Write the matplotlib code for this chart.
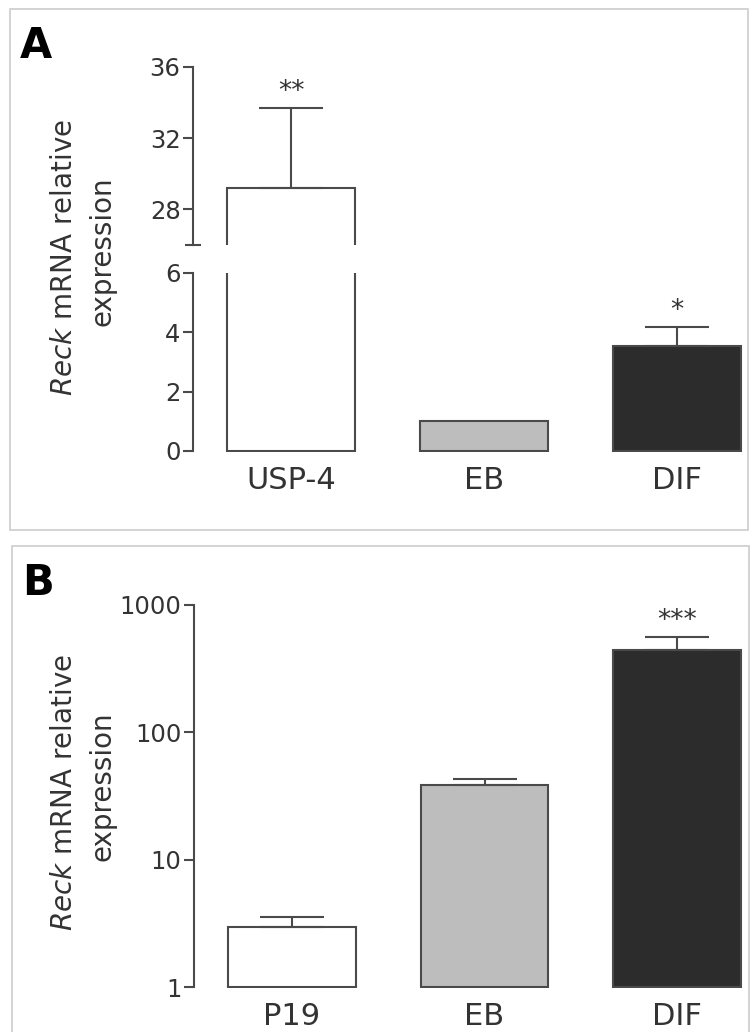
import matplotlib.pyplot as plt
from matplotlib.patches import Rectangle

FontSize = 17.5
LabelSize = 22
StarSize = 19
LineWidth = 1.5
EdgeColor = '#4a4a4a'
TextColor = '#333333'

# panel A data (broken axis)
groups_a = ['USP-4', 'EB', 'DIF']
values_a = [29.2, 1.0, 3.52]
errors_a = [4.5, 0.0, 0.67]
stars_a = ['**', '', '*']

# panel B data (log axis)
groups_b = ['P19', 'EB', 'DIF']
values_b = [3.0, 39.0, 445.0]
errors_b = [0.6, 4.0, 117.0]
stars_b = ['', '', '***']

bar_colors = ['white', '#bcbdbc', '#2c2c2c']

W, H = 750, 1032
fig = plt.figure(figsize=(W / 100, H / 100), dpi=100)


def px_axes(left, top, right, bottom):
    # axes placed with pixel coordinates of the reference picture
    return fig.add_axes([left / W, 1 - bottom / H, (right - left) / W, (bottom - top) / H])


def style_axis(ax):
    for side in ['top', 'right', 'bottom']:
        ax.spines[side].set_visible(False)
    ax.spines['left'].set_color(EdgeColor)
    ax.spines['left'].set_linewidth(LineWidth)
    ax.tick_params(axis='y', which='major', length=7, width=LineWidth, color=EdgeColor,
                   labelsize=FontSize, labelcolor=TextColor, pad=2)
    ax.tick_params(axis='x', length=0, labelsize=LabelSize, labelcolor=TextColor, pad=10)
    ax.set_xlim(-0.508, 2.378)


def add_stars(ax, values, errors, stars, only=None):
    for i, s in enumerate(stars):
        if s and (only is None or i in only):
            ax.annotate(s, (i, values[i] + errors[i]), xytext=(0, 2),
                        textcoords='offset points', ha='center', va='bottom',
                        fontsize=StarSize, color=TextColor, annotation_clip=False)


def draw_bars(ax, values, errors, bottom=0.0):
    x = list(range(len(values)))
    heights = [v - bottom for v in values]
    ax.bar(x, heights, bottom=bottom, width=0.663, color=bar_colors,
           edgecolor=EdgeColor, linewidth=LineWidth)
    for i in x:
        if errors[i] > 0:
            ax.errorbar(i, values[i], yerr=[[0], [errors[i]]], fmt='none', ecolor=EdgeColor,
                        elinewidth=LineWidth, capsize=23, capthick=LineWidth)


# Panel A
ax_top = px_axes(193, 67, 750, 245)
ax_low = px_axes(193, 273, 750, 452)

draw_bars(ax_top, values_a, errors_a)
draw_bars(ax_low, values_a, errors_a)
add_stars(ax_top, values_a, errors_a, stars_a, only=[0])
add_stars(ax_low, values_a, errors_a, stars_a, only=[2])

style_axis(ax_top)
ax_top.set_ylim(26, 36)
ax_top.set_yticks([28, 32, 36])
ax_top.set_yticks([26], minor=True)
ax_top.tick_params(axis='y', which='minor', direction='inout', length=12,
                   width=LineWidth, color=EdgeColor)
ax_top.set_xticks([])

style_axis(ax_low)
ax_low.set_ylim(-0.04, 6)
ax_low.spines['left'].set_bounds(0, 6)
ax_low.set_yticks([0, 2, 4, 6])
ax_low.set_xticks(range(3))
ax_low.set_xticklabels(groups_a)

# Panel B
ax_b = px_axes(194, 605, 750, 988)
ax_b.set_yscale('log')
draw_bars(ax_b, values_b, errors_b, bottom=1.0)
add_stars(ax_b, values_b, errors_b, stars_b)
style_axis(ax_b)
ax_b.set_ylim(0.99, 1000)
ax_b.spines['left'].set_bounds(1, 1000)
ax_b.set_yticks([1, 10, 100, 1000])
ax_b.set_yticklabels(['1', '10', '100', '1000'])
ax_b.minorticks_off()
ax_b.set_xticks(range(3))
ax_b.set_xticklabels(groups_b)

# y labels (two lines, gene name in italics)
for yc in [257, 792]:
    fig.text(64 / W, 1 - yc / H, r'$\mathit{Reck}$ mRNA relative', rotation=90,
             ha='center', va='center', fontsize=20, color=TextColor)
    fig.text(103 / W, 1 - (yc - 6) / H, 'expression', rotation=90,
             ha='center', va='center', fontsize=20, color=TextColor)

# panel letters
fig.text(20 / W, 1 - 58 / H, 'A', fontsize=30, fontweight='black', color='black', va='baseline')
fig.text(22 / W, 1 - 595 / H, 'B', fontsize=30, fontweight='black', color='black', va='baseline')

# panel frames
fig.patches.append(Rectangle((10 / W, 1 - 530 / H), 738 / W, 521 / H, transform=fig.transFigure,
                             fill=False, edgecolor='#cccccc', linewidth=1.2))
fig.patches.append(Rectangle((12 / W, 1 - 1040 / H), 737 / W, 494 / H, transform=fig.transFigure,
                             fill=False, edgecolor='#cccccc', linewidth=1.2))

fig.savefig('out.png', dpi=100)
